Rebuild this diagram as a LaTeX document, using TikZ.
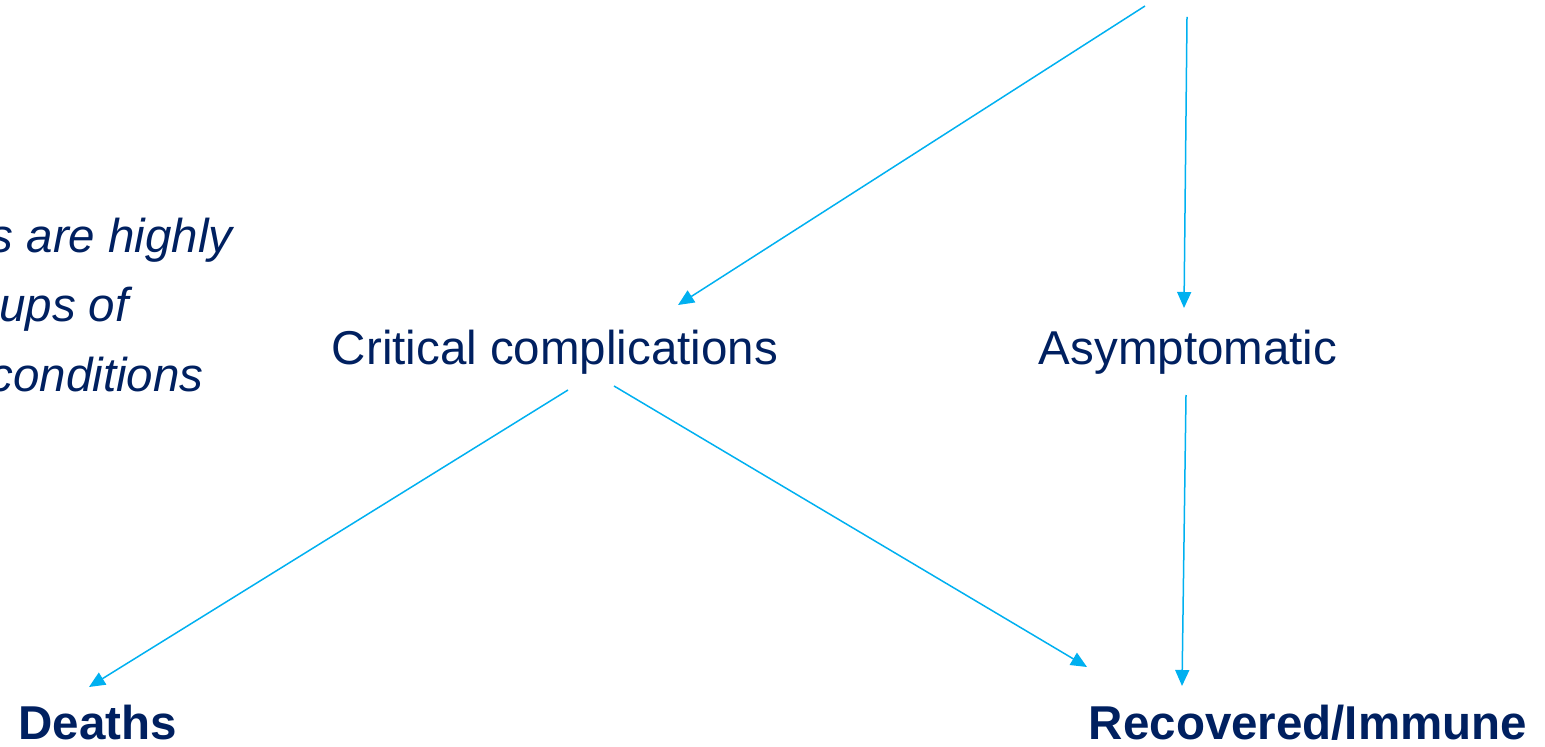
\documentclass[tikz,border=0pt]{standalone}
\usepackage{fontspec}
\setmainfont{Liberation Sans}
\usetikzlibrary{arrows.meta}
\definecolor{navy}{RGB}{0,32,96}
\definecolor{skyblue}{RGB}{0,176,240}
\tikzset{
    label/.style={inner sep=0pt, text=navy, font=\fontsize{23.75}{28}\selectfont},
    outcome/.style={label, font=\fontsize{23.75}{28}\selectfont\bfseries},
    note/.style={label, font=\fontsize{23.75}{28}\selectfont\itshape, anchor=base east},
    flow/.style={draw=skyblue, line width=0.75pt, -{Triangle[length=8pt,width=7pt]}}
}
\begin{document}
\begin{tikzpicture}[x=0.5pt, y=-0.5pt]
        \useasboundingbox (0, 0) rectangle (1545, 747);

        \node[note] (note1) at (233, 253) {s are highly}; \node[note] (note2) at (129, 322) {ups of}; \node[note] (note3) at (204, 392) {conditions};

        \node[label, anchor=base] (crit) at (555, 365) {Critical complications}; \node[label, anchor=base] (asym) at (1188, 365) {Asymptomatic};
        \node[outcome, anchor=base] (deaths) at (97.5, 739) {Deaths}; \node[outcome, anchor=base] (recov) at (1308, 739) {Recovered/Immune};

        \coordinate (topL) at (1145, 6); \coordinate (topR) at (1187, 17);
        \coordinate (critIn) at (678, 305); \coordinate (asymIn) at (1184, 308);
        \coordinate (critL) at (568, 390); \coordinate (critR) at (614, 386); \coordinate (asymOut) at (1186, 395);
        \coordinate (deathsIn) at (89, 687); \coordinate (recovL) at (1087, 667); \coordinate (recovIn) at (1182, 686);

        \draw[flow] (topL) -- (critIn); \draw[flow] (topR) -- (asymIn);
        \draw[flow] (critL) -- (deathsIn); \draw[flow] (critR) -- (recovL); \draw[flow] (asymOut) -- (recovIn);
    \end{tikzpicture}
\end{document}
